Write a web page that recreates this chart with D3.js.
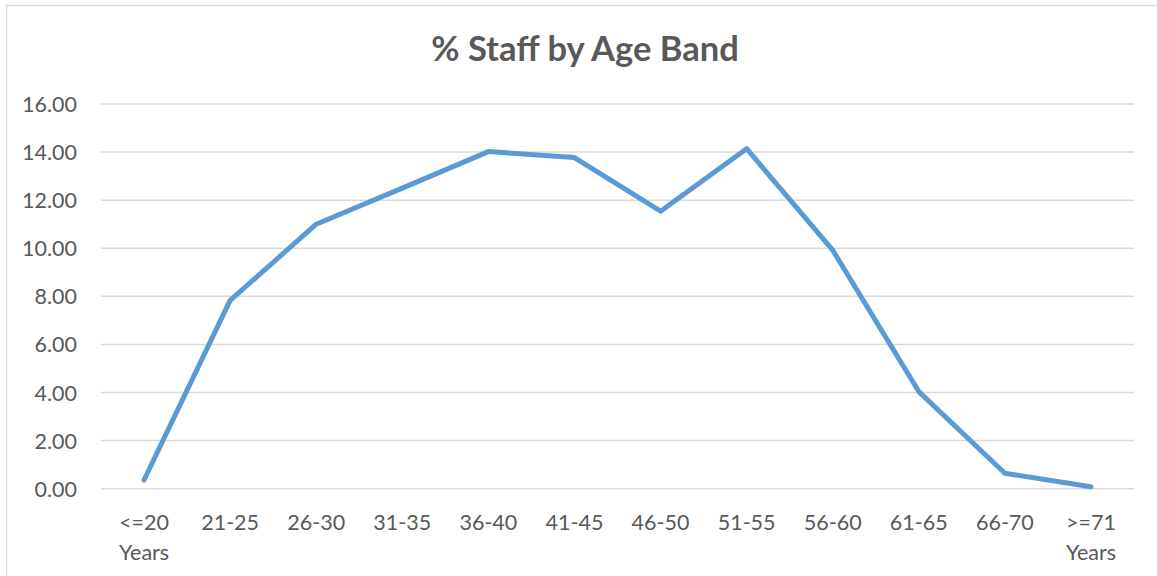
<!DOCTYPE html>
<html>
<head>
<meta charset="utf-8">
<script src="https://cdn.jsdelivr.net/npm/d3@7"></script>
<style>
  html, body { margin: 0; padding: 0; background: #ffffff; }
  svg { display: block; }
  text { font-family: Lato, "Open Sans", sans-serif; fill: #595959; }
</style>
</head>
<body>
<svg id="chart" width="1157" height="576"></svg>
<script>
// Age bands (two-line labels where the band reads "... Years")
const categories = ["<=20 Years", "21-25", "26-30", "31-35", "36-40", "41-45",
                    "46-50", "51-55", "56-60", "61-65", "66-70", ">=71 Years"];
// Percentage of staff in each band
const staffPct = [0.36, 7.83, 11.0, 12.5, 14.02, 13.77, 11.54, 14.14, 9.92, 4.04, 0.64, 0.08];
// Value axis ticks
const yTicks = [0, 2, 4, 6, 8, 10, 12, 14, 16];

const W = 1157, H = 576;
const margin = { left: 101, right: 23, top: 104, bottom: 87 };
const svg = d3.select("#chart");

// Chart frame
svg.append("rect")
  .attr("x", 6.5).attr("y", 5.5)
  .attr("width", 1170).attr("height", 620)
  .attr("fill", "none").attr("stroke", "#d9d9d9").attr("stroke-width", 1.5);

// Title
svg.append("text")
  .attr("x", 585).attr("y", 61)
  .attr("text-anchor", "middle")
  .style("font-size", "34.5px").style("font-weight", "bold")
  .text("% Staff by Age Band");

const x = d3.scaleBand()
  .domain(categories)
  .range([margin.left, W - margin.right])
  .paddingInner(0).paddingOuter(0);

const y = d3.scaleLinear()
  .domain([0, 16])
  .range([H - margin.bottom - 0.3, margin.top]);

// Horizontal gridlines
svg.append("g")
  .selectAll("line")
  .data(yTicks)
  .join("line")
  .attr("x1", margin.left).attr("x2", W - margin.right)
  .attr("y1", d => y(d)).attr("y2", d => y(d))
  .attr("stroke", "#d9d9d9").attr("stroke-width", 1.5);

// Y axis labels
const yAxis = d3.axisLeft(y).tickValues(yTicks).tickFormat(d3.format(".2f")).tickSize(0).tickPadding(0);
const gy = svg.append("g").attr("transform", "translate(77,0)").call(yAxis);
gy.select(".domain").remove();
gy.selectAll("text")
  .style("font-size", "21.5px").style("font-family", "Lato, 'Open Sans', sans-serif")
  .attr("fill", "#595959").attr("dy", "0.35em");

// X axis labels (split on the space so "Years" sits on a second line)
const xAxis = d3.axisBottom(x).tickSize(0).tickFormat("");
const gx = svg.append("g").attr("transform", `translate(0,${y(0)})`).call(xAxis);
gx.select(".domain").remove();
gx.selectAll(".tick").each(function(d) {
  const parts = d.split(" ");
  const t = d3.select(this).append("text")
    .attr("text-anchor", "middle")
    .style("font-size", "21.5px")
    .attr("fill", "#595959");
  parts.forEach((p, i) => {
    t.append("tspan").attr("x", 0).attr("y", 41 + i * 30).text(p);
  });
});

// Series line
const line = d3.line()
  .x((d, i) => x(categories[i]) + x.bandwidth() / 2)
  .y(d => y(d));

svg.append("path")
  .datum(staffPct)
  .attr("d", line)
  .attr("fill", "none")
  .attr("stroke", "#5b9bd5")
  .attr("stroke-width", 5)
  .attr("stroke-linejoin", "round")
  .attr("stroke-linecap", "round");
</script>
</body>
</html>
